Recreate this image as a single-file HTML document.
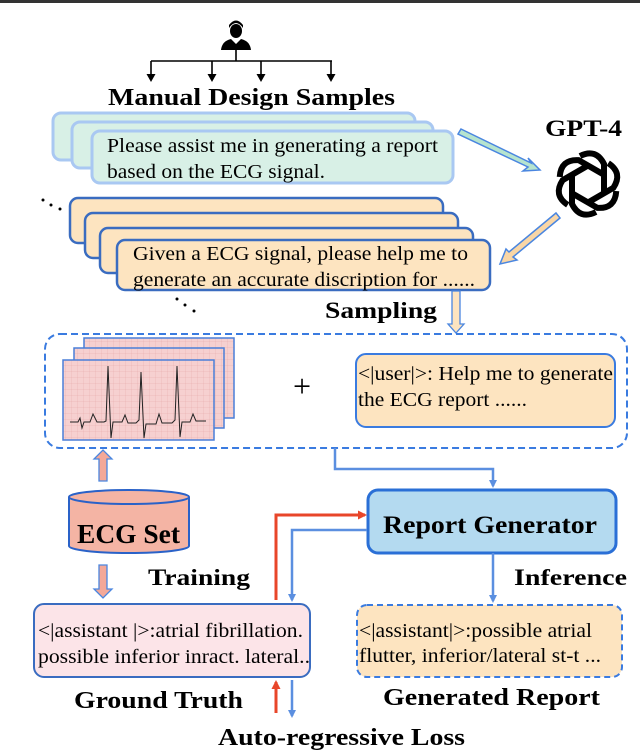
<!DOCTYPE html>
<html><head><meta charset="utf-8"><style>
body{margin:0;background:#fff}
svg{display:block}
text{font-family:"Liberation Serif",serif}
.b{font-weight:bold}
</style></head><body>
<svg width="640" height="751" viewBox="0 0 640 751" xmlns="http://www.w3.org/2000/svg">
<defs>
<pattern id="grid" width="6" height="6" patternUnits="userSpaceOnUse">
<rect width="6" height="6" fill="#f6d0d0"/>
<path d="M6 0V6M0 6H6" stroke="#e4a8a8" stroke-width="0.5"/>
</pattern>
<marker id="ab" markerWidth="8" markerHeight="8" refX="6" refY="4" orient="auto" markerUnits="userSpaceOnUse"><path d="M0,0 L8,4 L0,8 z" fill="#5b8fe0"/></marker>
<marker id="ar" markerWidth="9" markerHeight="9" refX="7" refY="4.5" orient="auto" markerUnits="userSpaceOnUse"><path d="M0,0 L9,4.5 L0,9 z" fill="#e8462a"/></marker>
<marker id="ak" markerWidth="8" markerHeight="9" refX="6" refY="4.5" orient="auto" markerUnits="userSpaceOnUse"><path d="M0,0 L8,4.5 L0,9 z" fill="#000"/></marker>
</defs>
<rect x="0" y="0" width="640" height="3" fill="#333"/>
<g fill="#000">
<ellipse cx="236" cy="31" rx="6" ry="7"/>
<path d="M229 28 Q236 18 243 28 L243 25 Q236 16 229 25 z"/>
<path d="M221 50 Q222 41 231 39 L236 44 L241 39 Q250 41 251 50 z"/>
</g>
<path d="M236 50V61M151 61H332" stroke="#000" stroke-width="1.6"/>
<g stroke="#000" stroke-width="1.6" marker-end="url(#ak)">
<line x1="151" y1="61" x2="151" y2="80"/><line x1="212" y1="61" x2="212" y2="80"/>
<line x1="261" y1="61" x2="261" y2="80"/><line x1="331" y1="61" x2="331" y2="80"/>
</g>
<text x="108" y="105" class="b" font-size="24" textLength="287" lengthAdjust="spacingAndGlyphs">Manual Design Samples</text>
<g fill="#d8f0e6" stroke="#a9c8f2" stroke-width="3">
<rect x="53" y="113" width="362" height="47" rx="8"/>
<rect x="72" y="122" width="361" height="46" rx="8"/>
<rect x="92" y="131" width="361" height="52" rx="8"/>
</g>
<text x="107" y="152" font-size="20" textLength="331" lengthAdjust="spacingAndGlyphs">Please assist me in generating a report</text>
<text x="107" y="178" font-size="20" textLength="218" lengthAdjust="spacingAndGlyphs">based on the ECG signal.</text>
<text x="545" y="136" class="b" font-size="23" textLength="77" lengthAdjust="spacingAndGlyphs">GPT-4</text>
<g transform="translate(588,184)" fill="none" stroke="#000" stroke-width="6">
<g id="pt"><path d="M-8 -28 Q8 -36 16 -20 L16 8"/></g>
<use href="#pt" transform="rotate(60)"/><use href="#pt" transform="rotate(120)"/>
<use href="#pt" transform="rotate(180)"/><use href="#pt" transform="rotate(240)"/><use href="#pt" transform="rotate(300)"/>
</g>
<path d="M461 129 L531 163 L528 158 L540 170 L523 171 L528 167 L458 134 z" fill="#b6e4cf" stroke="#4a86e0" stroke-width="1.5"/>
<path d="M560 218 L513 257 L517 260 L500 264 L506 249 L509 252 L556 213 z" fill="#f9d6a6" stroke="#4a86e0" stroke-width="1.5"/>
<g fill="#000"><circle cx="43" cy="200" r="1.5"/><circle cx="51" cy="205" r="1.5"/><circle cx="60" cy="209" r="1.5"/>
<circle cx="177" cy="299" r="1.5"/><circle cx="185" cy="305" r="1.5"/><circle cx="194" cy="311" r="1.5"/></g>
<g fill="#fde4c0" stroke="#3a6cc0" stroke-width="2.5">
<rect x="70" y="198" width="373" height="45" rx="8"/>
<rect x="85" y="213" width="373" height="45" rx="8"/>
<rect x="100" y="228" width="373" height="45" rx="8"/>
<rect x="117" y="240" width="373" height="50" rx="8"/>
</g>
<text x="133" y="260" font-size="20" textLength="335" lengthAdjust="spacingAndGlyphs">Given a ECG signal, please help me to</text>
<text x="133" y="286" font-size="20" textLength="342" lengthAdjust="spacingAndGlyphs">generate an accurate discription for ......</text>
<text x="325" y="318" class="b" font-size="23" textLength="112" lengthAdjust="spacingAndGlyphs">Sampling</text>
<path d="M452 291 V324 H448 L456 333 L464 324 H460 V291 z" fill="#fde4c0" stroke="#4a86e0" stroke-width="1.3"/>
<rect x="45" y="334" width="582" height="114" rx="15" fill="none" stroke="#3a7be0" stroke-width="2" stroke-dasharray="7,4"/>
<g stroke="#4a7fd8" stroke-width="1.5">
<rect x="84" y="338" width="150" height="80" fill="url(#grid)"/>
<rect x="74" y="348" width="150" height="80" fill="url(#grid)"/>
<rect x="63" y="360" width="151" height="80" fill="url(#grid)"/>
</g>
<path d="M70 422 H78 L80 418 L82 428 L84 422 H90 L93 414 L97 422 H104 L106 421 L108 366 L111 438 L113 422 H122 L125 415 L128 423 H136 L139 420 L141 372 L144 438 L146 424 H156 L159 414 L162 423 H172 L175 420 L177 366 L180 437 L182 422 H190 L193 414 L196 421 H206" fill="none" stroke="#222" stroke-width="1"/>
<text x="302" y="397" font-size="32" text-anchor="middle" font-family="Liberation Sans,sans-serif">+</text>
<rect x="356" y="354" width="259" height="73" rx="10" fill="#fde4c0" stroke="#3a7be0" stroke-width="2"/>
<text x="358" y="380" font-size="20" textLength="255" lengthAdjust="spacingAndGlyphs">&lt;|user|&gt;: Help me to generate</text>
<text x="358" y="406" font-size="20" textLength="169" lengthAdjust="spacingAndGlyphs">the ECG report ......</text>
<path d="M335 448 V469 H493 V486" fill="none" stroke="#5b8fe0" stroke-width="2.5" marker-end="url(#ab)"/>
<path d="M99 481 V459 H94 L103 450 L112 459 H107 V481 z" fill="#f4a898" stroke="#4a86e0" stroke-width="1.3"/>
<path d="M69 497 V546 A60 7 0 0 0 189 546 V497" fill="#f4b4a4" stroke="#2a62c8" stroke-width="2"/>
<ellipse cx="129" cy="497" rx="60" ry="7" fill="#f4b4a4" stroke="#2a62c8" stroke-width="2"/>
<text x="77" y="543" class="b" font-size="27" textLength="103" lengthAdjust="spacingAndGlyphs">ECG Set</text>
<path d="M99 565 V589 H94 L103 598 L112 589 H107 V565 z" fill="#f4a898" stroke="#4a86e0" stroke-width="1.3"/>
<text x="148" y="585" class="b" font-size="23" textLength="102" lengthAdjust="spacingAndGlyphs">Training</text>
<rect x="368" y="490" width="248" height="63" rx="10" fill="#b4daf0" stroke="#2a6fd6" stroke-width="3"/>
<text x="383" y="533" class="b" font-size="25" textLength="214" lengthAdjust="spacingAndGlyphs">Report Generator</text>
<path d="M276 600 V515 H365" fill="none" stroke="#e8462a" stroke-width="3" marker-end="url(#ar)"/>
<path d="M367 530 H292 V600" fill="none" stroke="#5b8fe0" stroke-width="2.5" marker-end="url(#ab)"/>
<path d="M493 553 V601" fill="none" stroke="#5b8fe0" stroke-width="2.5" marker-end="url(#ab)"/>
<text x="514" y="585" class="b" font-size="23" textLength="113" lengthAdjust="spacingAndGlyphs">Inference</text>
<rect x="34" y="604" width="276" height="73" rx="10" fill="#fce4e8" stroke="#3a6cc0" stroke-width="2"/>
<text x="38" y="637" font-size="20" textLength="265" lengthAdjust="spacingAndGlyphs">&lt;|assistant |&gt;:atrial fibrillation.</text>
<text x="38" y="663" font-size="20" textLength="272" lengthAdjust="spacingAndGlyphs">possible inferior inract. lateral..</text>
<rect x="357" y="605" width="265" height="72" rx="10" fill="#fde4c0" stroke="#3a7be0" stroke-width="2" stroke-dasharray="6,4"/>
<text x="359" y="637" font-size="20" textLength="233" lengthAdjust="spacingAndGlyphs">&lt;|assistant|&gt;:possible atrial</text>
<text x="359" y="662" font-size="20" textLength="242" lengthAdjust="spacingAndGlyphs">flutter, inferior/lateral st-t ...</text>
<text x="74" y="708" class="b" font-size="24" textLength="169" lengthAdjust="spacingAndGlyphs">Ground Truth</text>
<text x="383" y="705" class="b" font-size="24" textLength="217" lengthAdjust="spacingAndGlyphs">Generated Report</text>
<path d="M276 713 V682" fill="none" stroke="#e8462a" stroke-width="3" marker-end="url(#ar)"/>
<path d="M292 680 V716" fill="none" stroke="#5b8fe0" stroke-width="2.5" marker-end="url(#ab)"/>
<text x="218" y="745" class="b" font-size="24" textLength="247" lengthAdjust="spacingAndGlyphs">Auto-regressive Loss</text>
</svg>
</body></html>
